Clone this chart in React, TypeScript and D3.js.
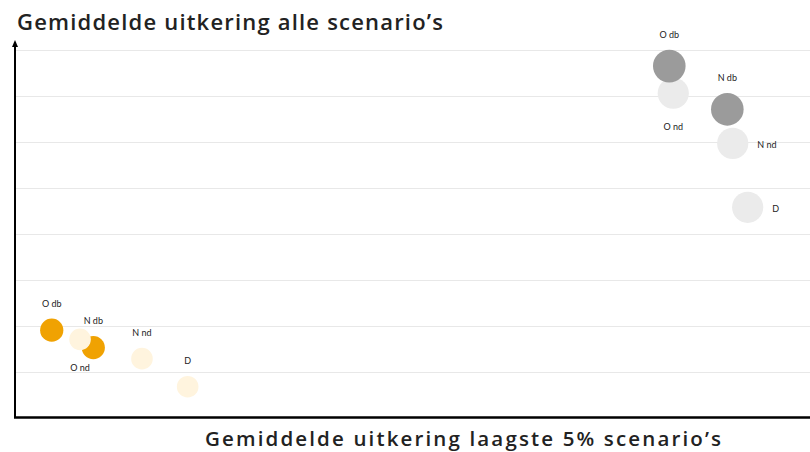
import React from "react";
import * as d3 from "d3";

const pointLabels = ["O db", "O nd", "N db", "N nd", "D"];
const isDb = [true, false, true, false, false];
const lowX = [4.62, 8.18, 9.85, 15.97, 21.72];
const lowY = [1.91, 1.71, 1.53, 1.29, 0.68];
const lowSide = ["top", "bottom", "top", "top", "top"];
const highX = [82.3, 82.8, 89.6, 90.28, 92.16];
const highY = [7.65, 7.06, 6.71, 5.97, 4.58];
const highSide = ["top", "bottom", "top", "right", "right"];
const yTicks = [1, 2, 3, 4, 5, 6, 7, 8];

const titleY = "Gemiddelde uitkering alle scenario’s";
const titleX = "Gemiddelde uitkering laagste 5% scenario’s";

const W = 810;
const H = 452;
const FONT = "Lato, 'Open Sans', sans-serif";
const TITLE_FONT = "'Open Sans', Lato, sans-serif";

export default function App() {
  const x = d3.scaleLinear().domain([0, 100]).range([15, 810]);
  const y = d3.scaleLinear().domain([0, 8]).range([418, 50]);

  type P = { label: string; x: number; y: number; side: string; db: boolean; group: string };
  const low: P[] = pointLabels.map((l, i) => ({ label: l, x: lowX[i], y: lowY[i], side: lowSide[i], db: isDb[i], group: "low" }));
  const high: P[] = pointLabels.map((l, i) => ({ label: l, x: highX[i], y: highY[i], side: highSide[i], db: isDb[i], group: "high" }));

  const style = (p: P) => {
    if (p.group === "low") return p.db ? { fill: "#F0A202", r: 11.6 } : { fill: "#FFF4DE", r: 10.8 };
    return p.db ? { fill: "#9B9B9B", r: 16.3 } : { fill: "#EBEBEB", r: 15.6 };
  };

  const ordered: P[] = [
    ...high.filter((p) => !p.db),
    ...high.filter((p) => p.db),
    ...low.filter((p) => p.db),
    ...low.filter((p) => !p.db),
  ];
  const all = [...low, ...high];

  const labelPos = (p: P) => {
    const cx = x(p.x);
    const cy = y(p.y);
    const r = style(p).r;
    if (p.side === "top") return { tx: cx, ty: cy - r - 14, anchor: "middle" };
    if (p.side === "bottom") return { tx: cx, ty: cy + r + 19, anchor: "middle" };
    return { tx: cx + r + 9, ty: cy + 2, anchor: "start" };
  };

  return (
    <svg
      width={W}
      height={H}
      style={{ position: "absolute", left: 0, top: 0, background: "#fff" }}
      fontFamily={FONT}
    >
      {yTicks.map((t) => (
        <line key={t} x1={x(0)} x2={W} y1={Math.round(y(t)) + 0.5} y2={Math.round(y(t)) + 0.5} stroke="#E8E8E8" strokeWidth={1} />
      ))}
      <line x1={x(0)} x2={x(0)} y1={y(0)} y2={47} stroke="#000" strokeWidth={2} />
      <path d={`M${x(0) - 3},${47} L${x(0)},${40} L${x(0) + 3},${47} Z`} fill="#000" />
      <line x1={x(0) - 1} x2={W} y1={y(0) - 0.5} y2={y(0) - 0.5} stroke="#000" strokeWidth={2.5} />
      {ordered.map((p, i) => {
        const s = style(p);
        return <circle key={i} cx={x(p.x)} cy={y(p.y)} r={s.r} fill={s.fill} />;
      })}
      {all.map((p, i) => {
        const l = labelPos(p);
        return (
          <text key={i} x={l.tx} y={l.ty} textAnchor={l.anchor as any} dominantBaseline="middle" fontSize={9} fill="#222">
            {p.label}
          </text>
        );
      })}
      <text x={17} y={30} fontFamily={TITLE_FONT} fontSize={22} fontWeight={600} fill="#222" textLength={426} lengthAdjust="spacing">
        {titleY}
      </text>
      <text x={205} y={446} fontFamily={TITLE_FONT} fontSize={20.5} fontWeight={600} fill="#222" textLength={516} lengthAdjust="spacing">
        {titleX}
      </text>
    </svg>
  );
}
